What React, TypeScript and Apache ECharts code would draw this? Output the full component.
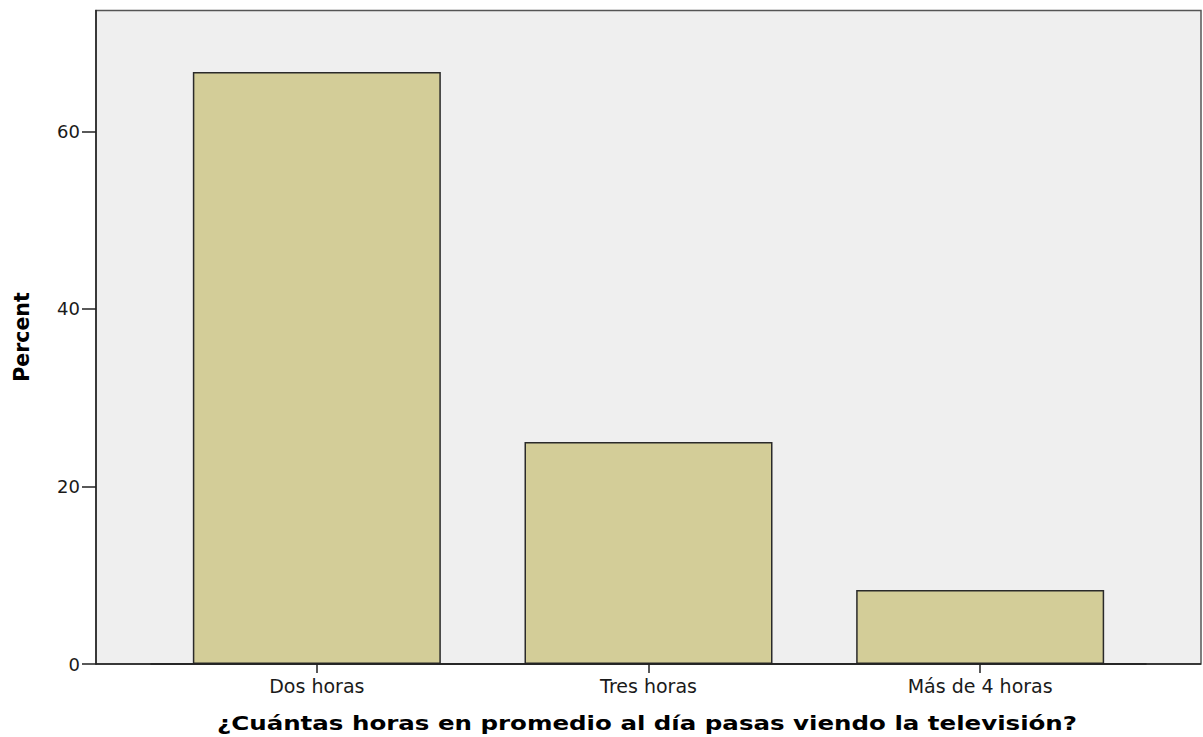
import React, { useEffect, useRef } from "react";
import * as echarts from "echarts";

const categories = ["Dos horas", "Tres horas", "Más de 4 horas"];
const percents = [66.67, 25.0, 8.33];
const yTicks = [0, 20, 40, 60];
const yMax = 73.6;
const xTitle = "¿Cuántas horas en promedio al día pasas viendo la televisión?";
const yTitle = "Percent";

export default function App() {
  const ref = useRef<HTMLDivElement>(null);
  useEffect(() => {
    const chart = echarts.init(ref.current!, null, { renderer: "svg" });
    const gridLeft = 151;
    const gridRight = 57;
    const gridTop = 10.5;
    const gridBottom = 73;
    const H = 737;
    const boxL = 96;
    const boxR = 1201;
    chart.setOption({
      animation: false,
      backgroundColor: "#ffffff",
      grid: { left: gridLeft, right: gridRight, top: gridTop, bottom: gridBottom, containLabel: false },
      graphic: [
        {
          type: "rect",
          z: -10,
          silent: true,
          shape: { x: boxL, y: gridTop, width: boxR - boxL, height: H - gridBottom - gridTop },
          style: { fill: "#efefef", stroke: "#555555", lineWidth: 1.5 },
        },
        {
          type: "line",
          z: 10,
          silent: true,
          shape: { x1: boxL, y1: H - gridBottom, x2: boxR, y2: H - gridBottom },
          style: { stroke: "#222222", lineWidth: 1.5 },
        },
        {
          type: "text",
          silent: true,
          x: 647,
          y: 723,
          scaleX: 1.225,
          style: {
            text: xTitle,
            x: 0,
            y: 0,
            align: "center",
            verticalAlign: "middle",
            fontFamily: "DejaVu Sans",
            fontWeight: "bold",
            fontSize: 20,
            fill: "#000000",
          },
        },
        {
          type: "text",
          silent: true,
          rotation: Math.PI / 2,
          x: 22,
          y: 337,
          style: {
            text: yTitle,
            x: 0,
            y: 0,
            align: "center",
            verticalAlign: "middle",
            fontFamily: "DejaVu Sans",
            fontWeight: "bold",
            fontSize: 20.5,
            fill: "#000000",
          },
        },
      ],
      xAxis: {
        type: "category",
        data: categories,
        boundaryGap: true,
        axisLine: { show: true, lineStyle: { color: "#222222", width: 1.5 } },
        axisTick: { show: true, alignWithLabel: true, length: 9, lineStyle: { color: "#222222", width: 1.5 } },
        axisLabel: { margin: 12, fontFamily: "DejaVu Sans", fontSize: 19, color: "#1a1a1a" },
        splitLine: { show: false },
      },
      yAxis: {
        type: "value",
        min: 0,
        max: yMax,
        interval: 20,
        offset: gridLeft - boxL,
        axisLine: { show: true, lineStyle: { color: "#222222", width: 1.5 } },
        axisTick: { show: true, length: 14, customValues: yTicks, lineStyle: { color: "#222222", width: 1.5 } },
        axisLabel: { margin: 16, customValues: yTicks, fontFamily: "DejaVu Sans", fontSize: 18, color: "#1a1a1a" },
        splitLine: { show: false },
      },
      series: [
        {
          type: "bar",
          data: percents,
          barWidth: 248,
          itemStyle: { color: "#d3cd98", borderColor: "#2a2a2a", borderWidth: 1.5 },
        },
      ],
    });
    return () => chart.dispose();
  }, []);
  return <div ref={ref} style={{ position: "fixed", left: 0, top: 0, width: 1203, height: 737 }} />;
}
